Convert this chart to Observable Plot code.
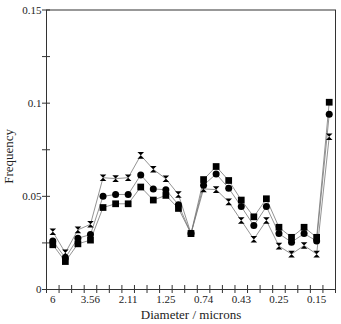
<!DOCTYPE html>
<html><head><meta charset="utf-8">
<script src="https://cdn.jsdelivr.net/npm/d3@7"></script>
<script src="https://cdn.jsdelivr.net/npm/@observablehq/plot@0.6"></script>
<style>body{margin:0;background:#fff}</style>
</head><body><div id="chart"></div>
<script>
// Diameter bins (23 bins); tick labels shown every third bin
const binCount = 23;
const labelBins = [0, 3, 6, 9, 12, 15, 18, 21];
const tickLabels = ["6", "3.56", "2.11", "1.25", "0.74", "0.43", "0.25", "0.15"];

// Frequency values per bin (three series)
const squares = [0.024, 0.015, 0.0245, 0.0265, 0.044, 0.046, 0.046, 0.055, 0.048, 0.0505, 0.0435, 0.030, 0.059, 0.066, 0.0585, 0.048, 0.039, 0.0487, 0.0334, 0.028, 0.0334, 0.028, 0.1005];
const circles = [0.026, 0.017, 0.0275, 0.0295, 0.050, 0.051, 0.051, 0.0615, 0.054, 0.0535, 0.0455, 0.030, 0.056, 0.062, 0.0544, 0.0445, 0.0343, 0.0445, 0.030, 0.0254, 0.030, 0.026, 0.094];
const hourglasses = [0.031, 0.0197, 0.032, 0.035, 0.060, 0.0595, 0.060, 0.072, 0.0645, 0.0594, 0.051, 0.030, 0.054, 0.0536, 0.047, 0.037, 0.027, 0.037, 0.0233, 0.019, 0.0236, 0.019, 0.082];

const yLabelTicks = [0, 0.05, 0.1, 0.15];
const yAllTicks = [0, 0.025, 0.05, 0.075, 0.1, 0.125, 0.15];

const hourglass = {
  draw(ctx, size) {
    const r = Math.sqrt(size / Math.PI);
    ctx.moveTo(-r, -r);
    ctx.lineTo(r, -r);
    ctx.lineTo(-r, r);
    ctx.lineTo(r, r);
    ctx.closePath();
  }
};

const rows = [];
[["square", squares], ["circle", circles], ["hourglass", hourglasses]].forEach(([s, vals]) => {
  vals.forEach((v, i) => rows.push({series: s, bin: i + 0.5, value: v}));
});

const chart = Plot.plot({
  width: 341,
  height: 324,
  marginLeft: 46,
  marginRight: 6,
  marginTop: 9.5,
  marginBottom: 35,
  style: {fontFamily: "'Liberation Serif', 'Times New Roman', serif", fontSize: "11px", color: "#222", background: "#fff"},
  x: {domain: [0, binCount]},
  y: {domain: [0, 0.15]},
  marks: [
    Plot.axisX({ticks: d3.range(0, binCount + 1), tickSize: 8, dy: -4, tickFormat: null, text: null, label: null, stroke: "#333"}),
    Plot.axisX({ticks: labelBins.map(b => b + 0.5), tickSize: 0, tickPadding: 6, tickFormat: d => tickLabels[labelBins.indexOf(d - 0.5)], label: null}),
    Plot.axisY({ticks: yAllTicks, tickSize: 8, dx: 4, tickFormat: null, text: null, label: null, stroke: "#333"}),
    Plot.axisY({ticks: yLabelTicks, tickSize: 0, tickPadding: 5, tickFormat: d => String(d), label: null}),
    Plot.frame({stroke: "#333"}),
    Plot.line(rows, {x: "bin", y: "value", z: "series", stroke: "#777", strokeWidth: 0.8}),
    Plot.dot(rows.filter(d => d.series === "square"), {x: "bin", y: "value", symbol: "square", r: 3.8, fill: "#000"}),
    Plot.dot(rows.filter(d => d.series === "circle"), {x: "bin", y: "value", symbol: "circle", r: 3.5, fill: "#000"}),
    Plot.dot(rows.filter(d => d.series === "hourglass"), {x: "bin", y: "value", symbol: hourglass, r: 3.3, fill: "#000"}),
    Plot.text(["Diameter / microns"], {frameAnchor: "bottom", dy: 29, fontSize: 13, fill: "#222"}),
    Plot.text(["Frequency"], {frameAnchor: "left", dx: -38, dy: 34, rotate: -90, fontSize: 13, fill: "#222"})
  ]
});
document.getElementById("chart").appendChild(chart);
</script>
</body></html>
